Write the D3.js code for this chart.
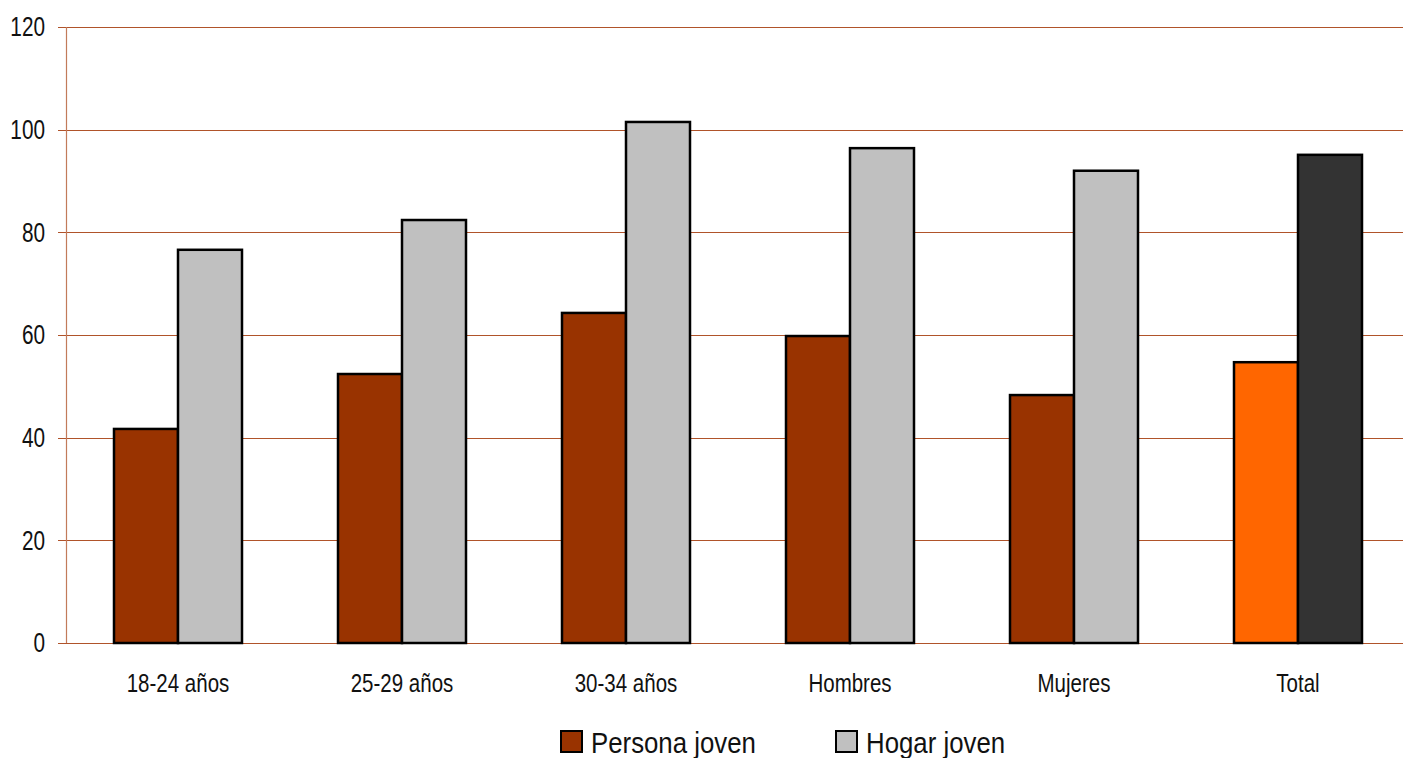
<!DOCTYPE html>
<html><head><meta charset="utf-8">
<script src="https://cdn.jsdelivr.net/npm/d3@7"></script>
<style>body{margin:0;background:#fff;} svg{display:block;} text{font-family:"Liberation Sans",Arial,sans-serif;fill:#111;}</style>
</head><body><svg id="c" width="1403" height="758"></svg>
<script>
const categories = ["18-24 años","25-29 años","30-34 años","Hombres","Mujeres","Total"];
const personaJoven = [41.7, 52.4, 64.3, 59.8, 48.3, 54.7];
const hogarJoven = [76.6, 82.4, 101.5, 96.4, 92.0, 95.1];
const yTicks = [0,20,40,60,80,100,120];
const seriesNames = ["Persona joven","Hogar joven"];
const personaColors = ["#993300","#993300","#993300","#993300","#993300","#FF6600"];
const hogarColors = ["#C0C0C0","#C0C0C0","#C0C0C0","#C0C0C0","#C0C0C0","#333333"];

const svg = d3.select("#c");
const m = {l:66, t:27, b:115};
const H = 758;
const x = d3.scaleBand().domain(categories).range([m.l, 1410]).paddingInner(0.4286).paddingOuter(0.2143);
const y = d3.scaleLinear().domain([0,120]).range([H-m.b, m.t]);
const gridColor = "#B0532A";

svg.append("g").selectAll("line").data(yTicks).join("line")
  .attr("x1", m.l-8).attr("x2", 1403).attr("y1", d=>Math.round(y(d))+0.5).attr("y2", d=>Math.round(y(d))+0.5)
  .attr("stroke", gridColor).attr("stroke-width",1.2);
svg.append("line").attr("x1", m.l+0.5).attr("x2", m.l+0.5).attr("y1", y(120)).attr("y2", y(0))
  .attr("stroke", "#C27B5A").attr("stroke-width",1.2);

svg.append("g").selectAll("text").data(yTicks).join("text")
  .attr("transform", d=>`translate(45,${y(d)}) scale(0.77,1)`).attr("dy","0.35em").attr("text-anchor","end")
  .attr("font-size",27).text(d=>d);

const bw = x.bandwidth()/2;
const g = svg.append("g");
g.selectAll("rect.p").data(categories).join("rect").attr("class","p")
  .attr("x", d=>x(d)).attr("width", bw)
  .attr("y", (d,i)=>y(personaJoven[i])).attr("height",(d,i)=>y(0)-y(personaJoven[i]))
  .attr("fill",(d,i)=>personaColors[i]).attr("stroke","#000").attr("stroke-width",2.5);
g.selectAll("rect.h").data(categories).join("rect").attr("class","h")
  .attr("x", d=>x(d)+bw).attr("width", bw)
  .attr("y", (d,i)=>y(hogarJoven[i])).attr("height",(d,i)=>y(0)-y(hogarJoven[i]))
  .attr("fill",(d,i)=>hogarColors[i]).attr("stroke","#000").attr("stroke-width",2.5);

svg.append("g").selectAll("text").data(categories).join("text")
  .attr("transform", d=>`translate(${x(d)+x.bandwidth()/2},692) scale(0.82,1)`).attr("text-anchor","middle")
  .attr("font-size",25).text(d=>d);

const leg = [{name:seriesNames[0], c:"#993300", x:561},{name:seriesNames[1], c:"#C0C0C0", x:836}];
const lg = svg.append("g").selectAll("g").data(leg).join("g");
lg.append("rect").attr("x",d=>d.x).attr("y",731).attr("width",21).attr("height",21)
  .attr("fill",d=>d.c).attr("stroke","#000").attr("stroke-width",2);
lg.append("text").attr("transform",d=>`translate(${d.x+30},753) scale(0.86,1)`).attr("font-size",30).text(d=>d.name);
</script></body></html>
